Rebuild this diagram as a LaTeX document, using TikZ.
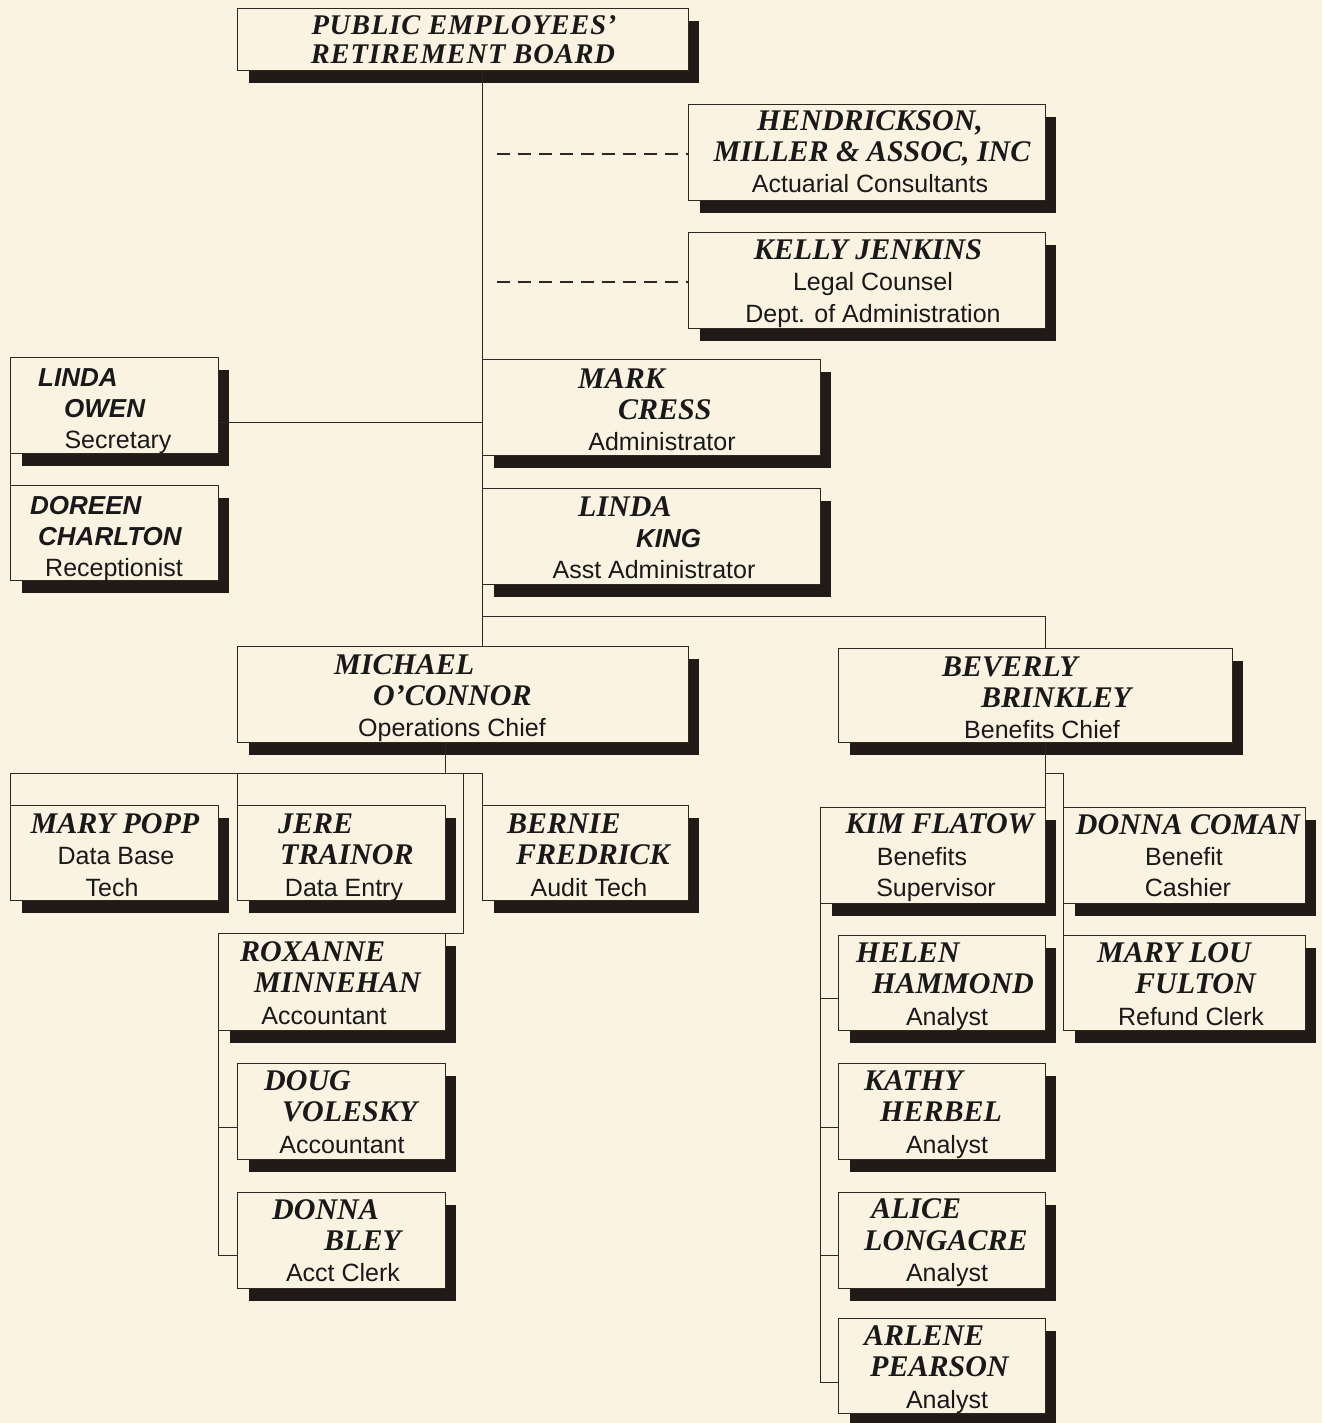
\documentclass[tikz,border=0pt]{standalone}
\usepackage{fontspec}
\setmainfont{Liberation Serif}
\newfontfamily\sansfam{Liberation Sans}
\newfontfamily\brdfam{Liberation Serif}[LetterSpace=3.0]
\usetikzlibrary{calc}
\definecolor{bgc}{RGB}{250,243,226}
\definecolor{shc}{RGB}{32,27,22}
\definecolor{lnc}{RGB}{45,40,36}
\tikzset{
  pb/.style={draw=lnc, line width=0.9pt, fill=bgc, inner sep=0pt, outer sep=0pt},
  conn/.style={draw=lnc, line width=1pt},
  dashconn/.style={draw=lnc, line width=1.2pt, dash pattern=on 13pt off 8pt},
  ser/.style={inner sep=0pt, text=black!90, font=\fontsize{30}{30}\selectfont\bfseries\itshape},
  san/.style={inner sep=0pt, text=black!90, font=\fontsize{26}{26}\selectfont\sansfam\bfseries\itshape},
  ttl/.style={inner sep=0pt, text=black!90, font=\fontsize{25}{25}\selectfont\sansfam},
  brd/.style={inner sep=0pt, text=black!90, font=\fontsize{28.5}{28.5}\selectfont\brdfam\bfseries\itshape},
}
\newcommand\pbox[5]{%
  \pgfmathsetmacro\bw{#4-#2}\pgfmathsetmacro\bh{#5-#3}%
  \fill[shc] ({#2+12},{#3+13}) rectangle ({#4+11},{#5+13});%
  \node[pb, minimum width=\bw pt, minimum height=\bh pt, anchor=north west] (#1) at (#2,#3) {};}
\newcommand\tl[5]{\node[#1,anchor=base west] (#2) at (#3,#4) {#5};}
\newcommand\tc[5]{\node[#1,anchor=base] (#2) at (#3,#4) {#5};}
\begin{document}
\begin{tikzpicture}[x=1pt,y=-1pt]
\fill[bgc] (0,0) rectangle (1322,1423);
\useasboundingbox (0,0) rectangle (1322,1423);

% ---------- boxes ----------
\pbox{board}{237}{8}{688}{70}
\pbox{hend}{688}{104}{1045}{200}
\pbox{kelly}{688}{232}{1045}{328}
\pbox{owen}{10}{357}{218}{453}
\pbox{doreen}{10}{485}{218}{580}
\pbox{mark}{482}{359}{820}{455}
\pbox{king}{482}{488}{820}{584}
\pbox{mic}{237}{646}{688}{742}
\pbox{bev}{838}{648}{1232}{742}
\pbox{popp}{10}{805}{218}{900}
\pbox{jere}{237}{805}{445}{900}
\pbox{bern}{482}{805}{688}{900}
\pbox{rox}{218}{933}{445}{1030}
\pbox{doug}{237}{1063}{445}{1159}
\pbox{bley}{237}{1192}{445}{1288}
\pbox{kim}{820}{807}{1045}{903}
\pbox{coman}{1063}{807}{1305}{903}
\pbox{helen}{838}{935}{1045}{1030}
\pbox{mlou}{1063}{935}{1305}{1030}
\pbox{kathy}{838}{1063}{1045}{1159}
\pbox{alice}{838}{1192}{1045}{1288}
\pbox{arl}{838}{1318}{1045}{1413}

% ---------- connectors ----------
\coordinate (j1) at (482,616);
\coordinate (oj) at (482,422);
\coordinate (dh) at (497,154);
\coordinate (dk) at (497,282);
\coordinate (mj) at (445,773);
\coordinate (m1) at (463,773);
\coordinate (bj) at (1045,773);

\draw[conn] (board.south -| j1) -- (mic.north -| j1);
\draw[conn] (j1) -| (bj |- bev.north);
\draw[dashconn] (dh) -- (dh -| hend.west);
\draw[dashconn] (dk) -- (dk -| kelly.west);
\draw[conn] (oj -| owen.east) -- (oj);
\draw[conn] (owen.south west) -- (doreen.north west);

\draw[conn] (mic.south -| mj) -- (mj);
\draw[conn] (popp.north west) |- (m1);
\draw[conn] (jere.north west) -- (jere.north west |- m1);
\draw[conn] (m1) |- (rox.north east);
\draw[conn] (m1) -| (bern.north west);
\draw[conn] (rox.south west) |- ($(bley.north west)+(0,63)$);
\draw[conn] ($(doug.north west)+(0,64)$) -- +(-19,0);

\draw[conn] (bev.south -| bj) -- (bj) -- (kim.north east);
\draw[conn] (bj) -| (coman.north west);
\draw[conn] (coman.south west) -- (mlou.north west);
\draw[conn] (kim.south west) |- ($(arl.north west)+(0,64)$);
\draw[conn] ($(helen.north west)+(0,63)$) -- +(-18,0);
\draw[conn] ($(kathy.north west)+(0,64)$) -- +(-18,0);
\draw[conn] ($(alice.north west)+(0,63)$) -- +(-18,0);

% ---------- texts ----------
\tc{brd}{b1}{464}{35}{PUBLIC\hspace{8pt}EMPLOYEES’}
\tc{brd}{b2}{463}{64}{RETIREMENT\hspace{8pt}BOARD}

\tc{ser}{h1}{870}{131}{HENDRICKSON,}
\tc{ser}{h2}{872}{162}{MILLER \& ASSOC, INC}
\tc{ttl}{h3}{870}{193}{Actuarial Consultants}

\tc{ser}{k1}{868}{259}{KELLY JENKINS}
\tc{ttl}{k2}{873}{290}{Legal Counsel}
\tc{ttl}{k3}{873}{322}{Dept. of Administration}

\tl{san}{o1}{38}{386}{LINDA}
\tl{san}{o2}{64}{417}{OWEN}
\tc{ttl}{o3}{118}{448}{Secretary}

\tl{san}{d1}{30}{514}{DOREEN}
\tl{san}{d2}{38}{545}{CHARLTON}
\tc{ttl}{d3}{114}{576}{Receptionist}

\tl{ser}{mk1}{578}{388}{MARK}
\tl{ser}{mk2}{618}{419}{CRESS}
\tc{ttl}{mk3}{662}{450}{Administrator}

\tl{ser}{lk1}{578}{516}{LINDA}
\tl{san}{lk2}{636}{547}{KING}
\tc{ttl}{lk3}{654}{578}{Asst Administrator}

\tl{ser}{mc1}{334}{674}{MICHAEL}
\tl{ser}{mc2}{373}{705}{O’CONNOR}
\tc{ttl}{mc3}{452}{736}{Operations Chief}

\tl{ser}{bv1}{942}{676}{BEVERLY}
\tl{ser}{bv2}{981}{707}{BRINKLEY}
\tc{ttl}{bv3}{1042}{738}{Benefits Chief}

\tc{ser}{p1}{115}{833}{MARY POPP}
\tc{ttl}{p2}{116}{864}{Data Base}
\tc{ttl}{p3}{112}{896}{Tech}

\tl{ser}{j1t}{278}{833}{JERE}
\tl{ser}{j2t}{280}{864}{TRAINOR}
\tc{ttl}{j3t}{344}{896}{Data Entry}

\tl{ser}{bn1}{507}{833}{BERNIE}
\tl{ser}{bn2}{516}{864}{FREDRICK}
\tc{ttl}{bn3}{589}{896}{Audit Tech}

\tl{ser}{r1}{240}{961}{ROXANNE}
\tl{ser}{r2}{254}{992}{MINNEHAN}
\tc{ttl}{r3}{324}{1024}{Accountant}

\tl{ser}{dg1}{264}{1090}{DOUG}
\tl{ser}{dg2}{282}{1121}{VOLESKY}
\tc{ttl}{dg3}{342}{1153}{Accountant}

\tl{ser}{db1}{272}{1219}{DONNA}
\tl{ser}{db2}{324}{1250}{BLEY}
\tc{ttl}{db3}{343}{1281}{Acct Clerk}

\tc{ser}{kf1}{940}{833}{KIM FLATOW}
\tc{ttl}{kf2}{922}{865}{Benefits}
\tc{ttl}{kf3}{936}{896}{Supervisor}

\tc{ser}{dc1}{1188}{834}{DONNA COMAN}
\tc{ttl}{dc2}{1184}{865}{Benefit}
\tc{ttl}{dc3}{1188}{896}{Cashier}

\tl{ser}{hh1}{856}{962}{HELEN}
\tl{ser}{hh2}{872}{993}{HAMMOND}
\tc{ttl}{hh3}{947}{1025}{Analyst}

\tl{ser}{ml1}{1097}{962}{MARY LOU}
\tl{ser}{ml2}{1135}{993}{FULTON}
\tc{ttl}{ml3}{1191}{1025}{Refund Clerk}

\tl{ser}{kh1}{864}{1090}{KATHY}
\tl{ser}{kh2}{880}{1121}{HERBEL}
\tc{ttl}{kh3}{947}{1153}{Analyst}

\tl{ser}{al1}{871}{1218}{ALICE}
\tl{ser}{al2}{864}{1250}{LONGACRE}
\tc{ttl}{al3}{947}{1281}{Analyst}

\tl{ser}{ap1}{864}{1345}{ARLENE}
\tl{ser}{ap2}{870}{1376}{PEARSON}
\tc{ttl}{ap3}{947}{1408}{Analyst}
\end{tikzpicture}
\end{document}
